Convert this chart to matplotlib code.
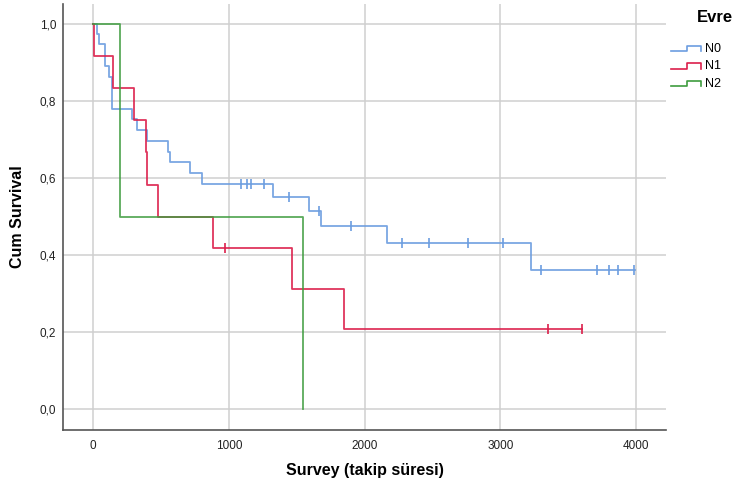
import numpy as np
import matplotlib
matplotlib.use("Agg")
import matplotlib.pyplot as plt
from matplotlib.legend_handler import HandlerBase
from matplotlib.lines import Line2D

plt.rcParams['font.family'] = ['Liberation Sans', 'DejaVu Sans']

# ---- data ----
groups = ["N0", "N1", "N2"]
colors = {"N0": "#6c9de0", "N1": "#dc1f4b", "N2": "#3e9c3e"}

n0_event_times = [26, 45, 87, 119, 141, 288, 325, 399, 553, 566, 713, 800,
                  1323, 1592, 1679, 2163, 3224]
n0_surv = [0.974, 0.948, 0.891, 0.863, 0.780, 0.753, 0.725, 0.696, 0.668,
           0.642, 0.614, 0.585, 0.550, 0.514, 0.475, 0.432, 0.360]
n0_censor_times = [1089, 1131, 1163, 1261, 1445, 1666, 1900, 2278, 2477,
                   2760, 3018, 3298, 3710, 3799, 3865, 3985]
n0_end = 3995

n1_event_times = [3, 148, 301, 390, 397, 475, 885, 1467, 1850]
n1_surv = [0.917, 0.833, 0.750, 0.667, 0.583, 0.500, 0.417, 0.3125, 0.208]
n1_censor_times = [968, 3350, 3600]
n1_end = 3600

n2_event_times = [197, 1548]
n2_surv = [0.500, 0.000]
n2_censor_times = []
n2_end = 1548

series = {
    "N0": (n0_event_times, n0_surv, n0_censor_times, n0_end),
    "N1": (n1_event_times, n1_surv, n1_censor_times, n1_end),
    "N2": (n2_event_times, n2_surv, n2_censor_times, n2_end),
}

x_ticks = [0, 1000, 2000, 3000, 4000]
y_ticks = [0.0, 0.2, 0.4, 0.6, 0.8, 1.0]
y_tick_labels = ["0,0", "0,2", "0,4", "0,6", "0,8", "1,0"]


def step_curve(times, surv, end):
    xs = [0.0] + list(times) + [end]
    ys = [1.0] + list(surv) + [surv[-1]]
    return np.array(xs, float), np.array(ys, float)


def surv_at(times, surv, t):
    s = 1.0
    for ti, si in zip(times, surv):
        if ti <= t:
            s = si
    return s


class StepHandler(HandlerBase):
    def create_artists(self, legend, orig_handle, xdescent, ydescent,
                       width, height, fontsize, trans):
        x0 = -xdescent
        y0 = -ydescent
        lo = y0 + height * 0.1
        hi = y0 + height * 0.7
        xs = [x0, x0 + width * 0.55, x0 + width * 0.55, x0 + width, x0 + width]
        ys = [lo, lo, hi, hi, lo]
        ln = Line2D(xs, ys, color=orig_handle.get_color(), lw=1.2,
                    transform=trans)
        return [ln]


fig = plt.figure(figsize=(7.42, 4.88), dpi=100)
ax = fig.add_axes([63 / 742, 1 - 430 / 488, (666 - 63) / 742, (430 - 4) / 488])

handles = []
for g in groups:
    times, surv, cens, end = series[g]
    xs, ys = step_curve(times, surv, end)
    ln, = ax.step(xs, ys, where="post", color=colors[g], lw=1.3,
                  alpha=0.9 if g != "N2" else 0.85, zorder=3, label=g)
    handles.append(ln)
    if cens:
        cy = [surv_at(times, surv, t) for t in cens]
        ax.plot(cens, cy, ls="none", marker="|", ms=7, mew=1.2,
                color=colors[g], zorder=4)

ax.set_xlim(-223, 4221)
ax.set_ylim(-0.0545, 1.052)
ax.set_xticks(x_ticks)
ax.set_yticks(y_ticks)
ax.set_yticklabels(y_tick_labels)
ax.tick_params(axis="both", length=0, labelsize=8.5, colors="#222222")
ax.tick_params(axis="y", pad=5)
ax.tick_params(axis="x", pad=7)

ax.grid(True, color="#cfcfcf", lw=1.1, zorder=0)
ax.set_axisbelow(True)
for s in ["top", "right"]:
    ax.spines[s].set_visible(False)
for s in ["left", "bottom"]:
    ax.spines[s].set_color("#555555")
    ax.spines[s].set_linewidth(1.2)

ax.set_ylabel("Cum Survival", fontsize=11.5, fontweight="bold")
ax.yaxis.set_label_coords(-0.063, 0.5)
ax.set_xlabel("Survey (takip süresi)", fontsize=11.5, fontweight="bold")
ax.xaxis.set_label_coords(0.5, -0.078)

fig.text(697 / 742, 1 - 17 / 488, "Evre", fontsize=12, fontweight="bold",
         ha="left", va="center")
leg = fig.legend(handles=handles, labels=groups,
                 handler_map={h: StepHandler() for h in handles},
                 loc="upper left", bbox_to_anchor=(662 / 742, 1 - 34 / 488),
                 frameon=False, fontsize=9, handlelength=2.4,
                 handletextpad=0.3, labelspacing=0.45, borderpad=0.2)

fig.savefig("out.png", dpi=100)
